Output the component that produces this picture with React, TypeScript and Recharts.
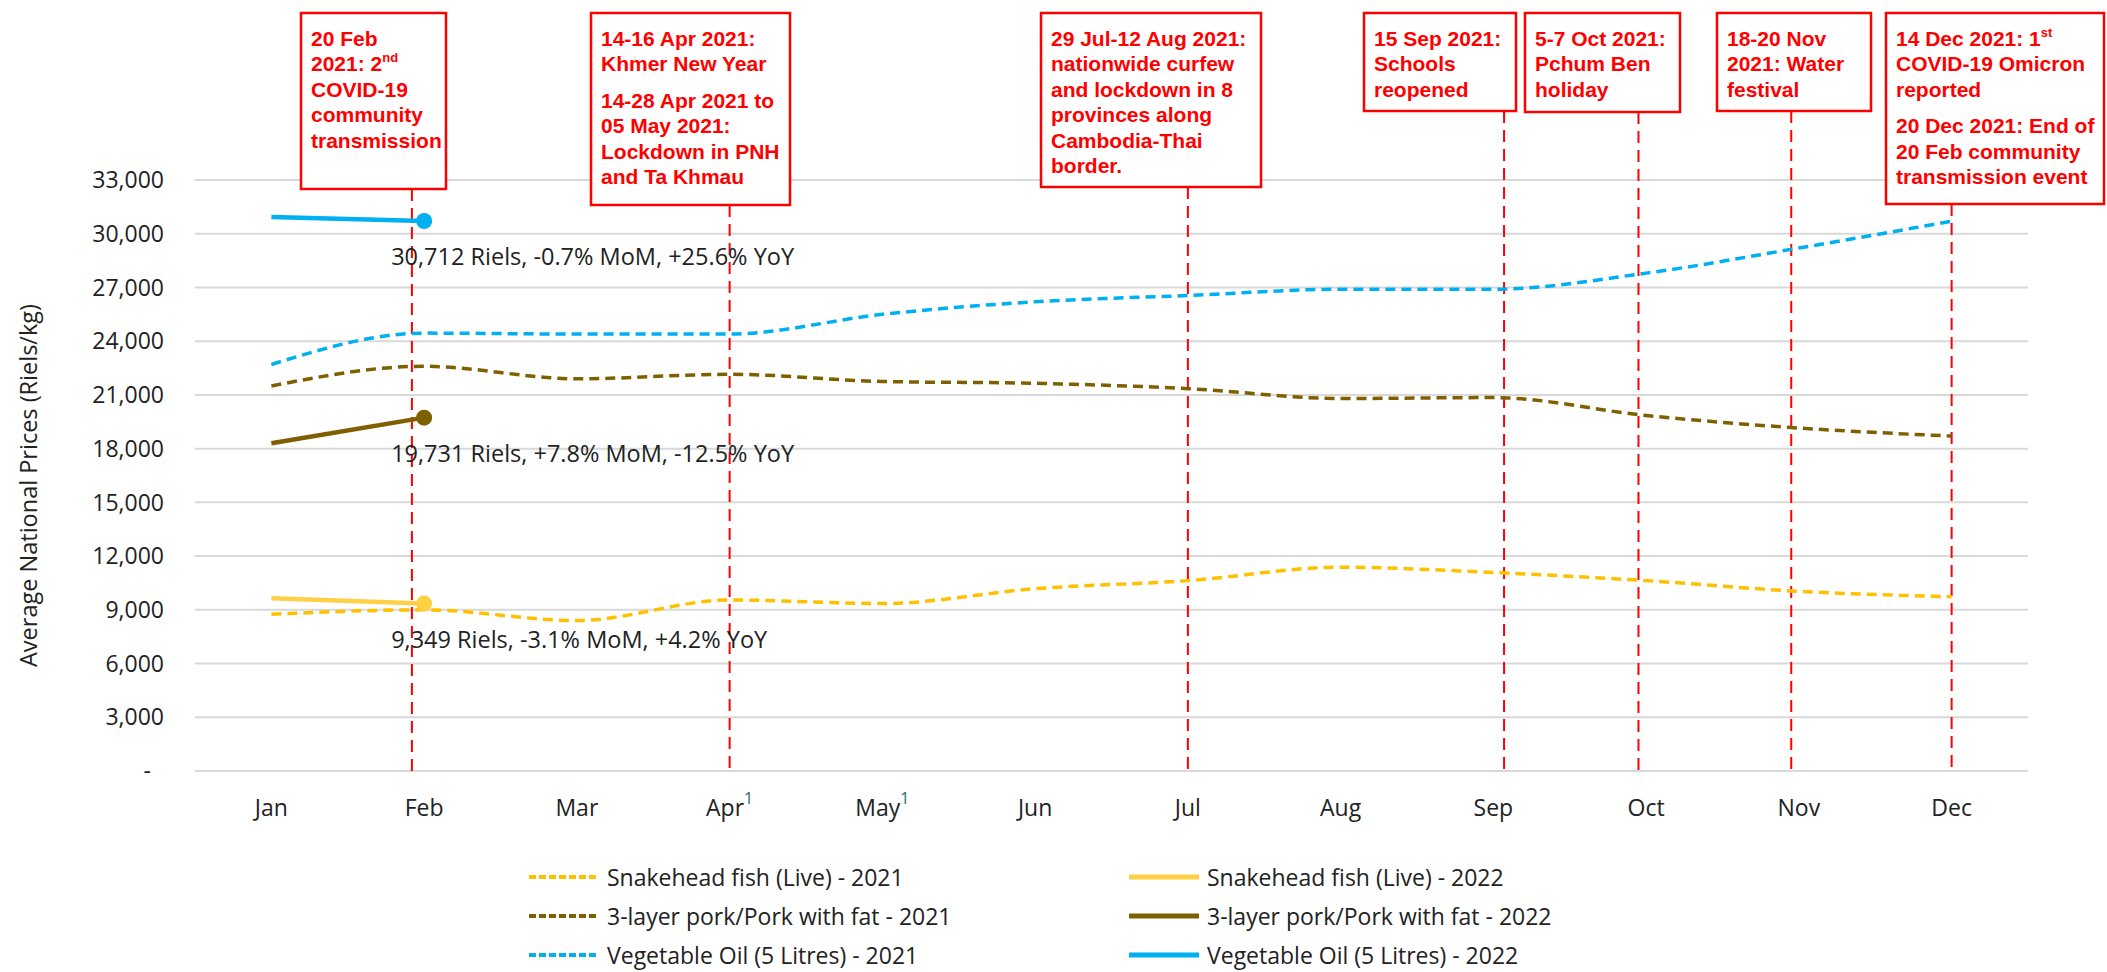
import { LineChart, Line, XAxis, YAxis, CartesianGrid, ReferenceLine } from "recharts";

const months = ["Jan", "Feb", "Mar", "Apr", "May", "Jun", "Jul", "Aug", "Sep", "Oct", "Nov", "Dec"];
const footnoted = ["Apr", "May"];

// Riels per kg (oil per 5 litres)
const fish2021 = [8750, 9000, 8400, 9550, 9350, 10180, 10630, 11380, 11080, 10630, 10030, 9730];
const fish2022 = [9648, 9349];
const pork2021 = [21500, 22600, 21900, 22150, 21750, 21650, 21350, 20800, 20850, 19850, 19150, 18700];
const pork2022 = [18303, 19731];
const oil2021 = [22700, 24450, 24400, 24400, 25500, 26200, 26550, 26900, 26900, 27800, 29200, 30700];
const oil2022 = [30929, 30712];

const fishNote = "9,349 Riels, -3.1% MoM, +4.2% YoY";
const porkNote = "19,731 Riels, +7.8% MoM, -12.5% YoY";
const oilNote = "30,712 Riels, -0.7% MoM, +25.6% YoY";

const yTicks = [0, 3000, 6000, 9000, 12000, 15000, 18000, 21000, 24000, 27000, 30000, 33000];

// event position in month units (0 = Jan) and its text; "" = paragraph gap, ^ = superscript
const eventAt = [0.92, 3, 6, 8.07, 8.95, 9.95, 11];
const eventText = [
  ["20 Feb", "2021: 2^nd", "COVID-19", "community", "transmission"],
  ["14-16 Apr 2021:", "Khmer New Year", "", "14-28 Apr 2021 to", "05 May 2021:", "Lockdown in PNH", "and Ta Khmau"],
  ["29 Jul-12 Aug 2021:", "nationwide curfew", "and lockdown in 8", "provinces along", "Cambodia-Thai", "border."],
  ["15 Sep 2021:", "Schools", "reopened"],
  ["5-7 Oct 2021:", "Pchum Ben", "holiday"],
  ["18-20 Nov", "2021: Water", "festival"],
  ["14 Dec 2021: 1^st", "COVID-19 Omicron", "reported", "", "20 Dec 2021: End of", "20 Feb community", "transmission event"],
];

// box placement (pixels)
const boxLayout = [
  { left: 301, right: 446, bottom: 189 },
  { left: 591, right: 790, bottom: 205 },
  { left: 1041, right: 1261, bottom: 187 },
  { left: 1364, right: 1516, bottom: 111 },
  { left: 1525, right: 1680, bottom: 112 },
  { left: 1717, right: 1871, bottom: 111 },
  { left: 1886, right: 2104, bottom: 204 },
];

const data = months.map((m, i) => ({
  idx: i,
  month: m,
  fish2021: fish2021[i],
  fish2022: fish2022[i] ?? null,
  pork2021: pork2021[i],
  pork2022: pork2022[i] ?? null,
  oil2021: oil2021[i],
  oil2022: oil2022[i] ?? null,
}));

const FISH21 = "#FFC000";
const FISH22 = "#FFD043";
const PORK = "#7F6000";
const OIL = "#00B0F0";
const RED = "#FF0000";
const FONT = "'Open Sans', sans-serif";
const BOX_TOP = 13;

const legendItems = [
  { label: "Snakehead fish (Live) - 2021", color: FISH21, dashed: true },
  { label: "Snakehead fish (Live) - 2022", color: FISH22, dashed: false },
  { label: "3-layer pork/Pork with fat - 2021", color: PORK, dashed: true },
  { label: "3-layer pork/Pork with fat - 2022", color: PORK, dashed: false },
  { label: "Vegetable Oil (5 Litres) - 2021", color: OIL, dashed: true },
  { label: "Vegetable Oil (5 Litres) - 2022", color: OIL, dashed: false },
];

function renderRich(s: string) {
  const k = s.indexOf("^");
  if (k < 0) return s;
  return (
    <>
      {s.slice(0, k)}
      <tspan fontSize={13} dy={-9}>{s.slice(k + 1)}</tspan>
    </>
  );
}

function EventMarker(props: any) {
  const { x1, y1, y2, box, lines } = props;
  const bottom = Math.max(y1, y2);
  let y = BOX_TOP + 32.5;
  const rows: any[] = [];
  lines.forEach((ln: string, i: number) => {
    if (ln === "") {
      y += 11;
      return;
    }
    rows.push(
      <text key={i} x={box.left + 10} y={y} fill={RED} fontSize={21} fontWeight="bold" fontFamily="'Liberation Sans', Arial, sans-serif">
        {renderRich(ln)}
      </text>
    );
    y += 25.5;
  });
  return (
    <g>
      <line x1={x1} x2={x1} y1={box.bottom} y2={bottom} stroke={RED} strokeWidth={2} strokeDasharray="12 7" />
      <rect x={box.left} y={BOX_TOP} width={box.right - box.left} height={box.bottom - BOX_TOP} fill="#fff" stroke={RED} strokeWidth={2.5} />
      {rows}
    </g>
  );
}

function XTick(props: any) {
  const { x, y, payload } = props;
  const m = months[payload.value];
  return (
    <text x={x} y={y} dy={39} textAnchor="middle" fill="#222" fontSize={23} fontFamily={FONT}>
      {m}
      {footnoted.includes(m) && (
        <tspan fill="#1B6B6B" fontSize={16} dy={-12}>1</tspan>
      )}
    </text>
  );
}

function noteLabel(text: string) {
  return (p: any) =>
    p.index === 1 ? (
      <text key={`n${p.index}`} x={p.x - 33} y={p.y + 44} fill="#222" fontSize={23.5} fontFamily={FONT}>
        {text}
      </text>
    ) : (
      <g key={`n${p.index}`} />
    );
}

function endDot(color: string) {
  return (p: any) =>
    p.index === 1 ? (
      <circle key={`d${p.index}`} cx={p.cx} cy={p.cy} r={8} fill={color} stroke="none" />
    ) : (
      <g key={`d${p.index}`} />
    );
}

export default function App() {
  return (
    <div style={{ position: "absolute", left: 0, top: 0, width: 2107, height: 972, background: "#fff", fontFamily: FONT, overflow: "hidden" }}>
      <LineChart width={2107} height={850} data={data} margin={{ top: 180, right: 79, left: 60, bottom: 19 }}>
        <CartesianGrid vertical={false} stroke="#D9D9D9" strokeWidth={2} />
        <XAxis
          type="number"
          dataKey="idx"
          domain={[-0.5, 11.5]}
          ticks={months.map((_, i) => i)}
          tick={<XTick />}
          axisLine={false}
          tickLine={false}
          tickMargin={0}
          height={60}
          interval={0}
        />
        <YAxis
          domain={[0, 33000]}
          ticks={yTicks}
          width={135}
          axisLine={false}
          tickLine={false}
          tickMargin={25}
          tick={{ fontSize: 23, fill: "#222", fontFamily: FONT }}
          tickFormatter={(v: number) => (v === 0 ? "-\u2007" : v.toLocaleString("en-US"))}
          label={(p: any) => {
            const vb = p.viewBox;
            const cy = vb.y + vb.height / 2 + 10;
            return (
              <text x={28} y={cy} transform={`rotate(-90, 28, ${cy})`} textAnchor="middle" dominantBaseline="central" fill="#222" fontSize={23.5} fontFamily={FONT}>
                Average National Prices (Riels/kg)
              </text>
            );
          }}
        />
        {eventAt.map((pos, i) => (
          <ReferenceLine
            key={i}
            x={pos}
            stroke={RED}
            shape={(p: any) => <EventMarker {...p} box={boxLayout[i]} lines={eventText[i]} />}
          />
        ))}
        <Line type="monotone" dataKey="oil2021" stroke={OIL} strokeWidth={3.5} strokeDasharray="10 6" dot={false} isAnimationActive={false} />
        <Line type="monotone" dataKey="pork2021" stroke={PORK} strokeWidth={3.5} strokeDasharray="10 6" dot={false} isAnimationActive={false} />
        <Line type="monotone" dataKey="fish2021" stroke={FISH21} strokeWidth={3.5} strokeDasharray="10 6" dot={false} isAnimationActive={false} />
        <Line type="linear" dataKey="oil2022" stroke={OIL} strokeWidth={4.5} dot={endDot(OIL)} label={noteLabel(oilNote)} isAnimationActive={false} />
        <Line type="linear" dataKey="pork2022" stroke={PORK} strokeWidth={4.5} dot={endDot(PORK)} label={noteLabel(porkNote)} isAnimationActive={false} />
        <Line type="linear" dataKey="fish2022" stroke={FISH22} strokeWidth={4.5} dot={endDot(FISH22)} label={noteLabel(fishNote)} isAnimationActive={false} />
      </LineChart>
      {legendItems.map((it, i) => {
        const col = i % 2;
        const row = Math.floor(i / 2);
        const left = col === 0 ? 529 : 1129;
        const cy = 877 + row * 39;
        return (
          <div key={it.label} style={{ position: "absolute", left, top: cy - 13, height: 26, display: "flex", alignItems: "center", whiteSpace: "nowrap", lineHeight: 1 }}>
            <svg width={72} height={10} style={{ marginRight: 6 }}>
              <line x1={0} x2={70} y1={5} y2={5} stroke={it.color} strokeWidth={it.dashed ? 4 : 5} strokeDasharray={it.dashed ? "7 3" : undefined} />
            </svg>
            <span style={{ fontSize: 23, color: "#222", lineHeight: 1 }}>{it.label}</span>
          </div>
        );
      })}
    </div>
  );
}
